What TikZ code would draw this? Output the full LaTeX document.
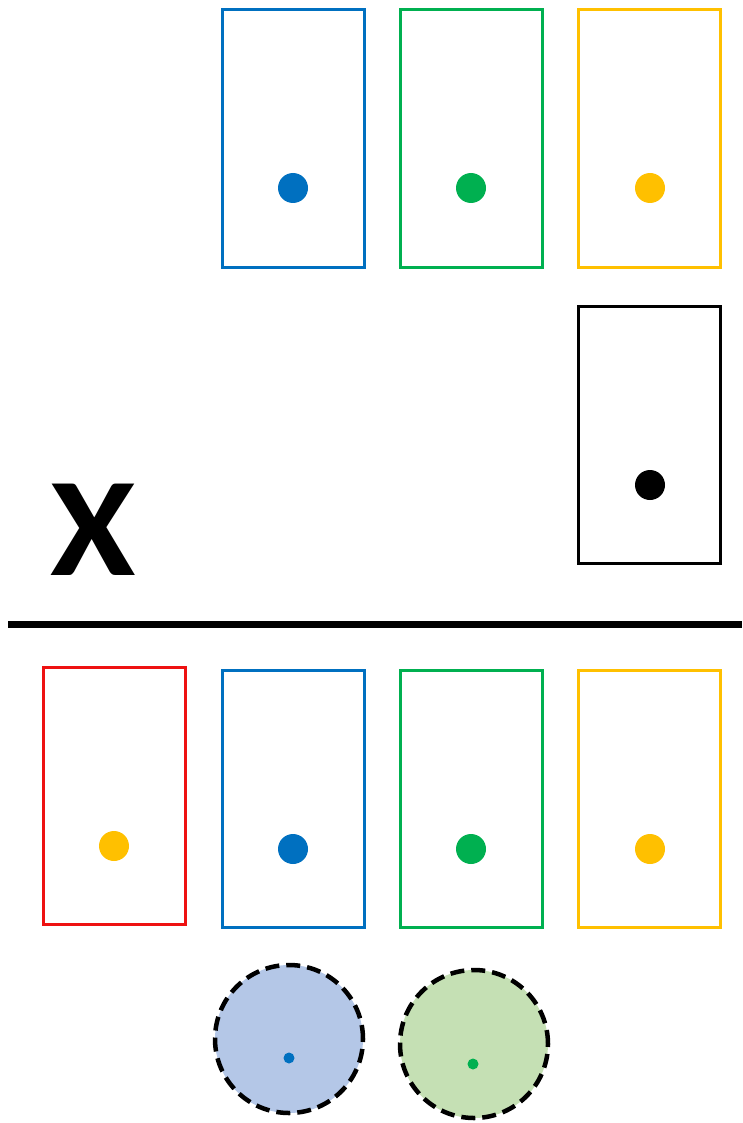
\documentclass[tikz,border=0pt]{standalone}
\usepackage{fontspec}
\setmainfont{Carlito}
\usepackage{xcolor}
\usetikzlibrary{positioning}
\definecolor{boxblue}{HTML}{0070C0}
\definecolor{boxgreen}{HTML}{00B050}
\definecolor{boxyellow}{HTML}{FFC000}
\definecolor{boxred}{HTML}{EE1111}
\definecolor{cellblue}{HTML}{B4C7E7}
\definecolor{cellgreen}{HTML}{C5E0B4}
\begin{document}
\begin{tikzpicture}[x=1pt,y=-1pt,
  slot/.style={draw=#1,line width=3pt,minimum width=142pt,minimum height=257pt,inner sep=0pt},
  dot/.style={circle,fill=#1,minimum size=30pt,inner sep=0pt},
  cell/.style={circle,draw=black,fill=#1,dash pattern=on 14pt off 7pt,line width=4.5pt,minimum size=148pt,inner sep=0pt},
  seed/.style={circle,fill=#1,minimum size=11pt,inner sep=0pt}]
\useasboundingbox (0,0) rectangle (742,1123);
% upper row
\node[slot=boxblue] (ub) at (293,138.5) {};
\node[slot=boxgreen] (ug) at (471,138.5) {};
\node[slot=boxyellow] (uy) at (649.5,138.5) {};
\node[dot=boxblue] (ubd) at (293,188) {};
\node[dot=boxgreen] (ugd) at (471,188) {};
\node[dot=boxyellow] (uyd) at (650,188) {};
\node[slot=black] (uk) at (649.5,434.5) {};
\node[dot=black] (ukd) at (650,485) {};
\node[anchor=base,inner sep=0pt,xscale=1.1,font=\fontsize{141}{141}\selectfont\bfseries] (cross) at (93,575) {X};
% divider
\coordinate (dl) at (8,624);
\coordinate (dr) at (742,624);
\draw[line width=7pt] (dl) -- (dr);
% lower row
\node[slot=boxred] (lr) at (114,796) {};
\node[slot=boxblue] (lb) at (293,799) {};
\node[slot=boxgreen] (lg) at (471,799) {};
\node[slot=boxyellow] (ly) at (649.5,799) {};
\node[dot=boxyellow] (lrd) at (114,846) {};
\node[dot=boxblue] (lbd) at (293,849) {};
\node[dot=boxgreen] (lgd) at (471,849) {};
\node[dot=boxyellow] (lyd) at (650,849) {};
% cells
\node[cell=cellblue] (cb) at (289,1039) {};
\node[cell=cellgreen] (cg) at (474,1044) {};
\node[seed=boxblue] (cbs) at (289,1058) {};
\node[seed=boxgreen] (cgs) at (473,1064) {};
\end{tikzpicture}
\end{document}
